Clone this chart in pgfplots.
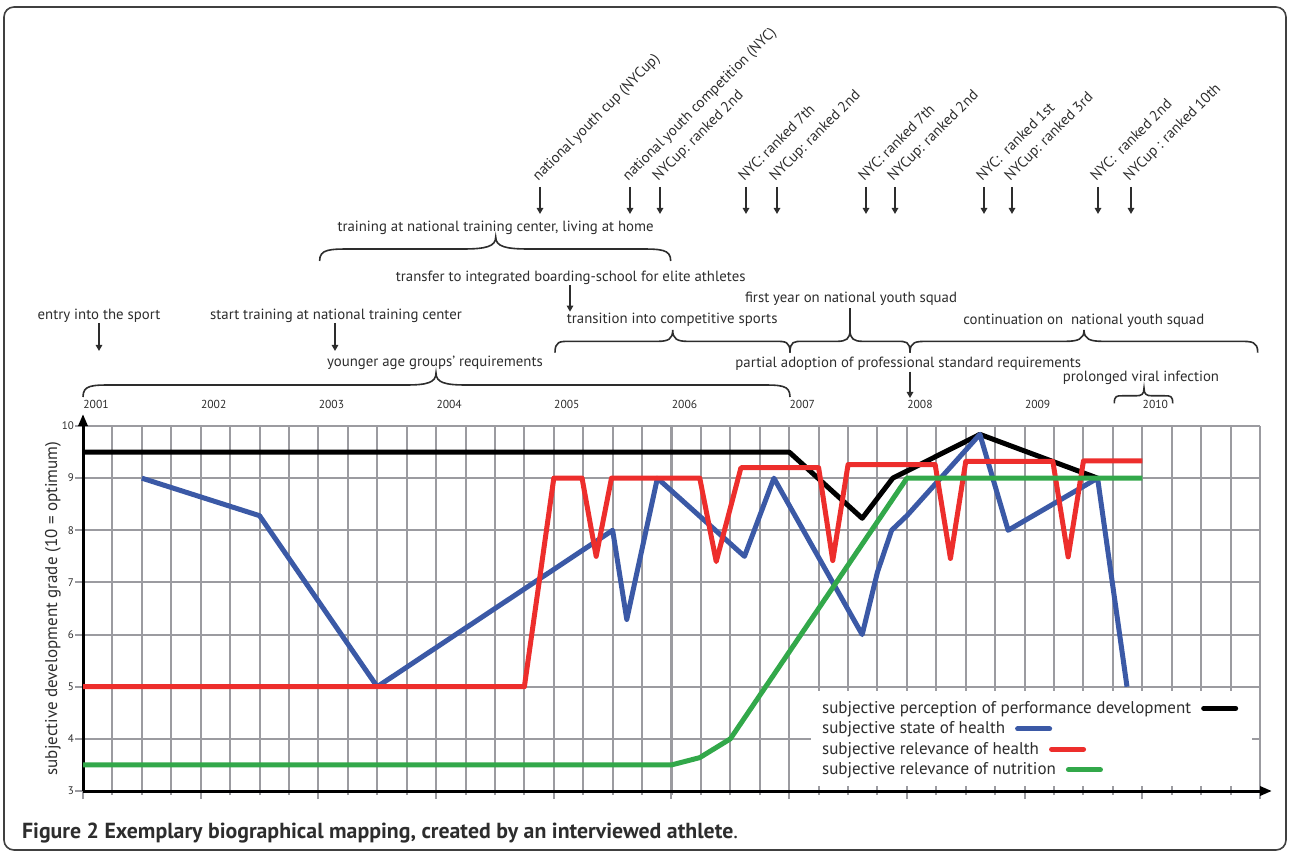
\documentclass[border=0pt]{standalone}
\usepackage{fontspec}
\setmainfont{PT Sans}
\usepackage{pgfplots}
\pgfplotsset{compat=1.18}
\usetikzlibrary{arrows.meta}

\definecolor{perf}{RGB}{0,0,0}
\definecolor{health}{RGB}{59,89,166}
\definecolor{relhealth}{RGB}{237,46,44}
\definecolor{nutri}{RGB}{50,168,74}
\definecolor{gridgray}{RGB}{155,155,160}
\definecolor{txt}{RGB}{45,45,45}

% curly brace: x-left, x-right, x-tip, y-ends, amplitude, curl width (px, y down)
\newcommand{\cbrace}[6]{%
  \draw[bline] (#1,#4) .. controls (#1,#4-0.5*#5) and (#1+0.3*#6,#4-0.5*#5) .. (#1+#6,#4-0.5*#5)
    -- (#3-#6,#4-0.5*#5) .. controls (#3-0.3*#6,#4-0.5*#5) and (#3,#4-0.6*#5) .. (#3,#4-#5)
    .. controls (#3,#4-0.6*#5) and (#3+0.3*#6,#4-0.5*#5) .. (#3+#6,#4-0.5*#5)
    -- (#2-#6,#4-0.5*#5) .. controls (#2-0.3*#6,#4-0.5*#5) and (#2,#4-0.5*#5) .. (#2,#4);}
\newcommand{\legline}[1]{\hspace{5pt}\tikz[baseline={(0,-2.5pt)}]\draw[#1, line width=2.5pt, line cap=round] (0,0) -- (16pt,0);}

\begin{document}
\begin{tikzpicture}[
  annot/.style={font=\fontsize{7.4}{8.5}\selectfont, text=txt, inner sep=0pt},
  leg/.style={font=\fontsize{8.5}{9.5}\selectfont, text=txt, inner sep=0pt, anchor=base west},
  down/.style={line width=0.75pt, txt, -{Triangle[length=3pt,width=3.2pt]}},
  bline/.style={line width=0.8pt, txt}]
\path[use as bounding box] (0,0) rectangle (645pt,426pt);

\begin{axis}[
  at={(41.5pt,30.5pt)}, anchor=south west,
  scale only axis, width=588.5pt, height=182.5pt,
  xmin=2001, xmax=2011, ymin=3, ymax=10,
  axis lines=left,
  axis line style={line width=1.5pt, black},
  x axis line style={-{Triangle[length=6pt,width=4.5pt]}, shorten >=-6pt},
  y axis line style={-{Triangle[length=6pt,width=4.5pt]}, shorten >=-6pt},
  xtick={2001,...,2011}, minor xtick={2001,2001.25,...,2011}, xticklabels={}, scaled x ticks=false,
  ytick={3,...,10},
  grid=both,
  major grid style={gridgray, line width=1pt},
  minor grid style={gridgray, line width=1pt},
  tick style={gridgray, line width=1pt},
  tick align=outside, major tick length=4pt, minor tick length=2pt,
  yticklabel style={font=\fontsize{5.5}{6}\selectfont, text=txt, xshift=3pt},
  /pgf/number format/assume math mode=true,
  ylabel={subjective development grade (10 = optimum)},
  every axis y label/.style={at={(axis description cs:-0.0255,0.5)}, rotate=90, anchor=center,
    font=\fontsize{8.5}{9.5}\selectfont, text=txt},
  clip=false,
  every axis plot/.append style={line width=2.5pt, line join=round},
]
% subjective perception of performance development
\addplot[perf] coordinates {(2001,9.5) (2007,9.5) (2007.62,8.23) (2007.88,9.0) (2008.62,9.84) (2009.62,9.0)};
% subjective state of health
\addplot[health] coordinates {(2001.5,9.0) (2002.5,8.28) (2003.5,5.0) (2005.5,8.0) (2005.62,6.29)
  (2005.88,9.0) (2006.62,7.5) (2006.87,9.0) (2007.62,6.0) (2007.75,7.2) (2007.87,8.0) (2008.0,8.28)
  (2008.62,9.84) (2008.86,8.0) (2009.62,9.0) (2009.87,5.0)};
% subjective relevance of health
\addplot[relhealth] coordinates {(2001,5) (2004.75,5) (2005.0,9) (2005.24,9) (2005.36,7.5) (2005.49,9)
  (2006.24,9) (2006.38,7.4) (2006.59,9.2) (2007.25,9.2) (2007.37,7.42) (2007.5,9.26) (2008.24,9.26)
  (2008.37,7.46) (2008.5,9.32) (2009.24,9.32) (2009.37,7.49) (2009.5,9.33) (2010.0,9.33)};
% subjective relevance of nutrition
\addplot[nutri] coordinates {(2001,3.5) (2006,3.5) (2006.24,3.64) (2006.5,4.0) (2008,9.0) (2010,9.0)};
\end{axis}

% annotations, in pixel units of the 1290x852 figure (y downwards)
\begin{scope}[x=0.5pt, y=-0.5pt, shift={(0,426pt)}]
\draw[rounded corners=5pt, line width=0.8pt, black!75] (4,7) rectangle (1286,850);

% legend
\fill[white] (811,691) rectangle (1252,785.5);
\node[leg] at (821.7,713.3) {subjective perception of performance development\legline{perf}};
\node[leg] at (821.7,733.8) {subjective state of health\legline{health}};
\node[leg] at (821.7,754.3) {subjective relevance of health\legline{relhealth}};
\node[leg] at (821.7,774.8) {subjective relevance of nutrition\legline{nutri}};

% years
\foreach \yr [count=\k from 0] in {2001,...,2010}
  \node[font=\fontsize{5.8}{6}\selectfont, text=txt, inner sep=0pt, anchor=base west] at ({83+117.7*\k},409) {\yr};

% competitions
\foreach \X in {540,630,660,746,777,866,895,984,1012,1098,1131}
  \draw[down] (\X,187) -- (\X,214);
\node[annot, rotate=45, anchor=base west] at (538,182) {national youth cup (NYCup)};
\node[annot, rotate=45, anchor=base west] at (628,182) {national youth competition (NYC)};
\node[annot, rotate=45, anchor=base west] at (658,182) {NYCup: ranked 2nd};
\node[annot, rotate=45, anchor=base west] at (744,182) {NYC: ranked 7th};
\node[annot, rotate=45, anchor=base west] at (775,182) {NYCup: ranked 2nd};
\node[annot, rotate=45, anchor=base west] at (864,182) {NYC: ranked 7th};
\node[annot, rotate=45, anchor=base west] at (893,182) {NYCup: ranked 2nd};
\node[annot, rotate=45, anchor=base west] at (982,182) {NYC:\ \ ranked 1st};
\node[annot, rotate=45, anchor=base west] at (1010,182) {NYCup: ranked 3rd};
\node[annot, rotate=45, anchor=base west] at (1096,182) {NYC:\ \ ranked 2nd};
\node[annot, rotate=45, anchor=base west] at (1129,182) {NYCup : ranked 10th};

% phases
\node[annot] at (495.6,228.3) {training at national training center, living at home};
\cbrace{319.6}{670.7}{495.7}{261}{24}{33}
\node[annot] at (570.7,278) {transfer to integrated boarding-school for elite athletes};
\draw[down] (570,285) -- (570,311.7);
\node[annot] at (99,316) {entry into the sport};
\draw[down] (99,323) -- (99,351);
\node[annot] at (336,316) {start training at national training center};
\draw[down] (335,323) -- (335,351);
\node[annot] at (672.2,320) {transition into competitive sports};
\cbrace{555}{790}{672.7}{352.7}{22.7}{15}
\node[annot] at (851,298.3) {first year on national youth squad};
\cbrace{790}{910}{850}{352.7}{22.7}{13}
\draw[bline] (850,331) -- (850,308);
\node[annot] at (1083.8,320.7) {continuation on\ \ national youth squad};
\cbrace{910}{1257.7}{1084}{352.7}{22.7}{19}
\node[annot] at (435,363) {younger age groups’ requirements};
\cbrace{83}{790}{436}{397}{24}{30}
\node[annot] at (908.3,363.3) {partial adoption of professional standard requirements};
\draw[down] (910,371.7) -- (910,398);
\node[annot] at (1141,378.3) {prolonged viral infection};
\cbrace{1114.3}{1172.7}{1144}{403.3}{15}{8}

% caption
\node[anchor=base west, inner sep=0pt, font=\fontsize{10.9}{12}\selectfont, text=txt] at (21.7,838.3)
  {\textbf{Figure 2 Exemplary biographical mapping, created by an interviewed athlete}.};
\end{scope}
\end{tikzpicture}
\end{document}
